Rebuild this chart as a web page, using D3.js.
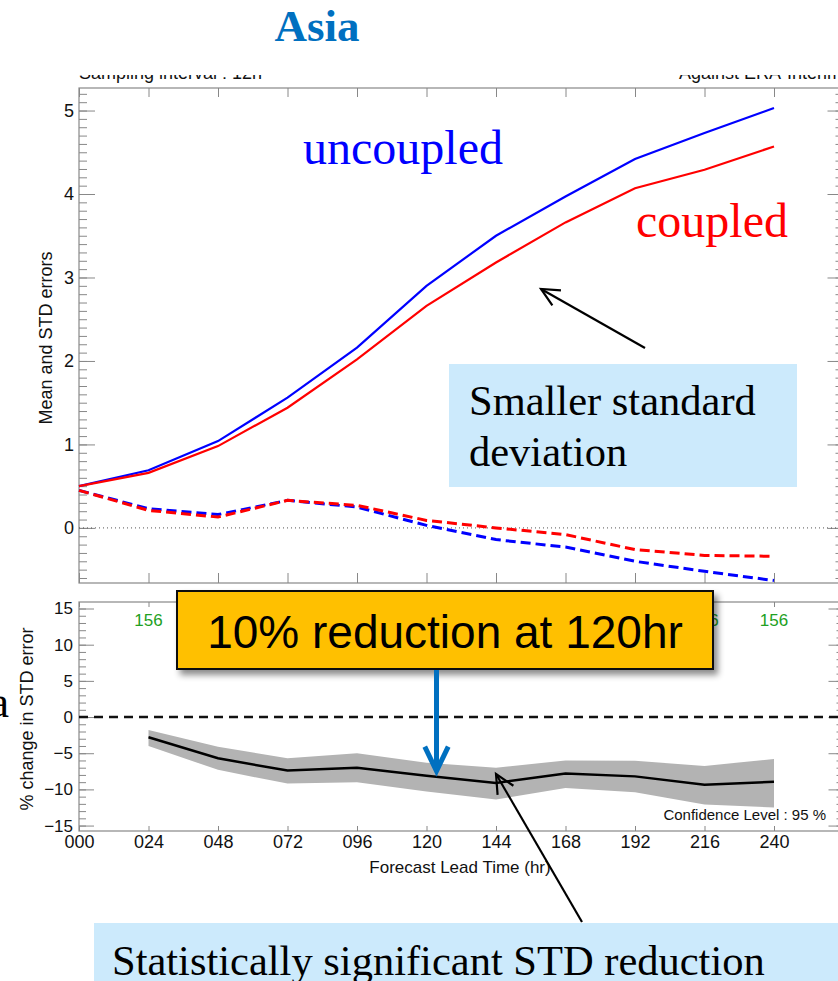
<!DOCTYPE html>
<html>
<head>
<meta charset="utf-8">
<script src="https://cdn.jsdelivr.net/npm/d3@7"></script>
<style>
  body { margin: 0; background: #fff; }
  svg { display: block; }
  .tick text { font-family: "Liberation Sans", Arial, sans-serif; fill: #111; }
  .tick line { stroke: #888; }
</style>
</head>
<body>
<div id="chart"></div>
<script>
// Forecast lead times (hours)
const hours = [0, 24, 48, 72, 96, 120, 144, 168, 192, 216, 240];
const xTickLabels = ["000", "024", "048", "072", "096", "120", "144", "168", "192", "216", "240"];

// Top panel: STD errors (solid) and mean errors (dashed)
const stdUncoupled = [0.50, 0.69, 1.04, 1.56, 2.16, 2.90, 3.50, 3.97, 4.42, 4.73, 5.03];
const stdCoupled = [0.50, 0.66, 0.98, 1.44, 2.02, 2.66, 3.18, 3.66, 4.07, 4.29, 4.57];
const meanUncoupled = [0.45, 0.23, 0.16, 0.33, 0.25, 0.03, -0.14, -0.23, -0.40, -0.52, -0.63];
const meanCoupled = [0.45, 0.21, 0.13, 0.33, 0.27, 0.09, 0.00, -0.08, -0.26, -0.33, -0.34];

// Bottom panel: % change in STD error with confidence band
const pctHours = [24, 48, 72, 96, 120, 144, 168, 192, 216, 240];
const pctChange = [-2.8, -5.7, -7.4, -7.0, -8.1, -9.1, -7.8, -8.2, -9.35, -8.95];
const pctUpper = [-1.8, -4.1, -5.7, -5.0, -6.3, -7.0, -6.0, -6.05, -6.75, -5.8];
const pctLower = [-4.0, -7.3, -9.2, -9.0, -10.3, -11.4, -9.8, -10.4, -12.1, -12.5];
const sampleCounts = [156, 156, 156, 156, 156, 156, 156, 156, 156, 156];

const width = 838;
const height = 981;
const sans = '"Liberation Sans", Arial, sans-serif';
const serif = '"Liberation Serif", "Times New Roman", serif';

const svg = d3.select("#chart")
  .append("svg")
    .attr("width", width)
    .attr("height", height)
    .attr("viewBox", [0, 0, width, height]);

svg.append("rect").attr("width", width).attr("height", height).attr("fill", "#fff");

const defs = svg.append("defs");
defs.append("filter")
    .attr("id", "shadow")
    .attr("x", "-10%").attr("y", "-20%").attr("width", "130%").attr("height", "160%")
  .append("feDropShadow")
    .attr("dx", 4).attr("dy", 5).attr("stdDeviation", 3)
    .attr("flood-color", "#000").attr("flood-opacity", 0.45);

// ---------- shared x scale ----------
const x = d3.scaleLinear().domain([0, 264]).range([79, 843.5]);

// ---------- top panel ----------
const yTop = d3.scaleLinear().domain([-0.66, 5.27]).range([583, 88]);
const topPanel = svg.append("g");

// header texts (partly hidden by the slide title area)
topPanel.append("text")
    .attr("x", 79).attr("y", 79)
    .attr("font-family", sans).attr("font-size", 18).attr("fill", "#111")
    .text("Sampling interval : 12h");
topPanel.append("text")
    .attr("x", 679).attr("y", 79)
    .attr("font-family", sans).attr("font-size", 18).attr("fill", "#111")
    .text("Against ERA-Interim");
topPanel.append("rect").attr("x", 0).attr("y", 0).attr("width", width).attr("height", 75).attr("fill", "#fff");

topPanel.append("rect")
    .attr("x", x.range()[0]).attr("y", yTop.range()[1])
    .attr("width", x.range()[1] - x.range()[0])
    .attr("height", yTop.range()[0] - yTop.range()[1])
    .attr("fill", "none").attr("stroke", "#888").attr("stroke-width", 1.2);

const minorTop = d3.range(-6, 53).map(i => i / 10);

function clean(g) { g.select(".domain").remove(); }

topPanel.append("g").attr("transform", `translate(${x.range()[0]},0)`)
    .call(d3.axisLeft(yTop).tickValues(minorTop).tickSize(-8).tickFormat(""))
    .call(clean);
topPanel.append("g").attr("transform", `translate(${x.range()[0]},0)`)
    .call(d3.axisLeft(yTop).tickValues([0, 1, 2, 3, 4, 5]).tickSize(-16).tickPadding(5).tickFormat(d3.format("d")))
    .call(clean)
    .call(g => g.selectAll("text").attr("font-size", 18));
topPanel.append("g").attr("transform", `translate(${x.range()[1]},0)`)
    .call(d3.axisRight(yTop).tickValues(minorTop).tickSize(-8).tickFormat(""))
    .call(clean);
topPanel.append("g").attr("transform", `translate(${x.range()[1]},0)`)
    .call(d3.axisRight(yTop).tickValues([0, 1, 2, 3, 4, 5]).tickSize(-16).tickFormat(""))
    .call(clean);
topPanel.append("g").attr("transform", `translate(0,${yTop.range()[1]})`)
    .call(d3.axisTop(x).tickValues(hours).tickSize(-9).tickFormat(""))
    .call(clean);
topPanel.append("g").attr("transform", `translate(0,${yTop.range()[0]})`)
    .call(d3.axisBottom(x).tickValues(hours).tickSize(-10).tickFormat(""))
    .call(clean);

topPanel.append("text")
    .attr("transform", `translate(52,338) rotate(-90)`)
    .attr("text-anchor", "middle")
    .attr("font-family", sans).attr("font-size", 18).attr("fill", "#111")
    .text("Mean and STD errors");

// zero line
topPanel.append("line")
    .attr("x1", x.range()[0]).attr("x2", x.range()[1])
    .attr("y1", yTop(0)).attr("y2", yTop(0))
    .attr("stroke", "#555").attr("stroke-width", 1).attr("stroke-dasharray", "1,3");

const lineTop = (vals) => d3.line().x((d, i) => x(hours[i])).y(d => yTop(d))(vals);

topPanel.append("path").attr("d", lineTop(meanUncoupled))
    .attr("fill", "none").attr("stroke", "#0000ff").attr("stroke-width", 3).attr("stroke-dasharray", "10,5");
topPanel.append("path").attr("d", lineTop(meanCoupled))
    .attr("fill", "none").attr("stroke", "#ff0000").attr("stroke-width", 3).attr("stroke-dasharray", "10,5");
topPanel.append("path").attr("d", lineTop(stdUncoupled))
    .attr("fill", "none").attr("stroke", "#0000ff").attr("stroke-width", 2.2);
topPanel.append("path").attr("d", lineTop(stdCoupled))
    .attr("fill", "none").attr("stroke", "#ff0000").attr("stroke-width", 2.2);

// ---------- bottom panel ----------
const yBot = d3.scaleLinear().domain([-15.75, 15.9]).range([831, 602]);
const botPanel = svg.append("g");

botPanel.append("rect")
    .attr("x", x.range()[0]).attr("y", yBot.range()[1])
    .attr("width", x.range()[1] - x.range()[0])
    .attr("height", yBot.range()[0] - yBot.range()[1])
    .attr("fill", "none").attr("stroke", "#888").attr("stroke-width", 1.2);

const minorBot = d3.range(-15, 16);
botPanel.append("g").attr("transform", `translate(${x.range()[0]},0)`)
    .call(d3.axisLeft(yBot).tickValues(minorBot).tickSize(-7).tickFormat(""))
    .call(clean);
botPanel.append("g").attr("transform", `translate(${x.range()[0]},0)`)
    .call(d3.axisLeft(yBot).tickValues([-15, -10, -5, 0, 5, 10, 15]).tickSize(-15).tickPadding(6).tickFormat(d3.format("d")))
    .call(clean)
    .call(g => g.selectAll("text").attr("font-size", 17));
botPanel.append("g").attr("transform", `translate(${x.range()[1]},0)`)
    .call(d3.axisRight(yBot).tickValues(minorBot).tickSize(-7).tickFormat(""))
    .call(clean);
botPanel.append("g").attr("transform", `translate(${x.range()[1]},0)`)
    .call(d3.axisRight(yBot).tickValues([-15, -10, -5, 0, 5, 10, 15]).tickSize(-15).tickFormat(""))
    .call(clean);
botPanel.append("g").attr("transform", `translate(0,${yBot.range()[1]})`)
    .call(d3.axisTop(x).tickValues(hours).tickSize(-5).tickFormat(""))
    .call(clean);
botPanel.append("g").attr("transform", `translate(0,${yBot.range()[0]})`)
    .call(d3.axisBottom(x).tickValues(hours).tickSize(-5).tickPadding(4).tickFormat((d, i) => xTickLabels[i]))
    .call(clean)
    .call(g => g.selectAll("text").attr("font-size", 18));

botPanel.append("text")
    .attr("x", 460).attr("y", 873)
    .attr("text-anchor", "middle")
    .attr("font-family", sans).attr("font-size", 17).attr("fill", "#111")
    .text("Forecast Lead Time (hr)");

botPanel.append("text")
    .attr("transform", `translate(33,719) rotate(-90)`)
    .attr("text-anchor", "middle")
    .attr("font-family", sans).attr("font-size", 18).attr("fill", "#111")
    .text("% change in STD error");

// sample sizes
botPanel.append("g").selectAll("text")
  .data(pctHours)
  .join("text")
    .attr("x", d => x(d)).attr("y", 626)
    .attr("text-anchor", "middle")
    .attr("font-family", sans).attr("font-size", 17).attr("fill", "#22a022")
    .text((d, i) => sampleCounts[i]);

// confidence band
botPanel.append("path")
    .datum(pctHours)
    .attr("d", d3.area()
        .x(d => x(d))
        .y0((d, i) => yBot(pctLower[i]))
        .y1((d, i) => yBot(pctUpper[i])))
    .attr("fill", "#b3b3b3");

// zero line
botPanel.append("line")
    .attr("x1", x.range()[0]).attr("x2", x.range()[1])
    .attr("y1", yBot(0)).attr("y2", yBot(0))
    .attr("stroke", "#111").attr("stroke-width", 2.5).attr("stroke-dasharray", "9,6");

botPanel.append("path")
    .datum(pctHours)
    .attr("d", d3.line().x(d => x(d)).y((d, i) => yBot(pctChange[i])))
    .attr("fill", "none").attr("stroke", "#000").attr("stroke-width", 2.5);

botPanel.append("text")
    .attr("x", 826).attr("y", 820)
    .attr("text-anchor", "end")
    .attr("font-family", sans).attr("font-size", 15).attr("fill", "#111")
    .text("Confidence Level : 95 %");

// ---------- slide annotations ----------
svg.append("text")
    .attr("x", 317).attr("y", 41)
    .attr("text-anchor", "middle")
    .attr("font-family", serif).attr("font-weight", "bold").attr("font-size", 45)
    .attr("fill", "#0070c0")
    .text("Asia");

svg.append("text")
    .attr("x", 303).attr("y", 164)
    .attr("font-family", serif).attr("font-size", 48).attr("fill", "#0000ff")
    .text("uncoupled");
svg.append("text")
    .attr("x", 636).attr("y", 237)
    .attr("font-family", serif).attr("font-size", 48).attr("fill", "#ff0000")
    .text("coupled");

// "Smaller standard deviation" box and arrow
svg.append("rect")
    .attr("x", 449).attr("y", 364).attr("width", 348).attr("height", 123)
    .attr("fill", "#cceafc");
svg.append("text")
    .attr("font-family", serif).attr("font-size", 42.5).attr("fill", "#000")
    .selectAll("tspan")
    .data(["Smaller standard", "deviation"])
    .join("tspan")
      .attr("x", 469).attr("y", (d, i) => 415 + i * 51)
      .text(d => d);

function openArrow(x1, y1, x2, y2, color, w, head) {
  const a = Math.atan2(y2 - y1, x2 - x1);
  const spread = 0.45;
  const p1 = [x2 - head * Math.cos(a - spread), y2 - head * Math.sin(a - spread)];
  const p2 = [x2 - head * Math.cos(a + spread), y2 - head * Math.sin(a + spread)];
  svg.append("line")
      .attr("x1", x1).attr("y1", y1).attr("x2", x2).attr("y2", y2)
      .attr("stroke", color).attr("stroke-width", w);
  svg.append("path")
      .attr("d", `M${p1[0]},${p1[1]}L${x2},${y2}L${p2[0]},${p2[1]}`)
      .attr("fill", "none").attr("stroke", color).attr("stroke-width", w)
      .attr("stroke-linejoin", "miter");
}

openArrow(645, 348, 541, 289, "#000", 2.2, 20);

// yellow callout
svg.append("rect")
    .attr("x", 177).attr("y", 591).attr("width", 536).attr("height", 78)
    .attr("fill", "#ffc000").attr("stroke", "#111").attr("stroke-width", 2)
    .attr("filter", "url(#shadow)");
svg.append("text")
    .attr("x", 445).attr("y", 648)
    .attr("text-anchor", "middle")
    .attr("font-family", sans).attr("font-size", 46).attr("fill", "#000")
    .text("10% reduction at 120hr");

openArrow(436.5, 670, 436.5, 771, "#0070c0", 5, 27);

// bottom box and arrow
svg.append("rect")
    .attr("x", 94).attr("y", 923).attr("width", 760).attr("height", 70)
    .attr("fill", "#cceafc");
openArrow(582, 922, 496, 774, "#000", 2.2, 21);
svg.append("text")
    .attr("x", 112).attr("y", 975)
    .attr("font-family", serif).attr("font-size", 42.5).attr("fill", "#000")
    .text("Statistically significant STD reduction");

// cropped slide letter on the far left
svg.append("text")
    .attr("x", 9).attr("y", 717)
    .attr("text-anchor", "end")
    .attr("font-family", serif).attr("font-size", 44).attr("fill", "#000")
    .text("a");
</script>
</body>
</html>
